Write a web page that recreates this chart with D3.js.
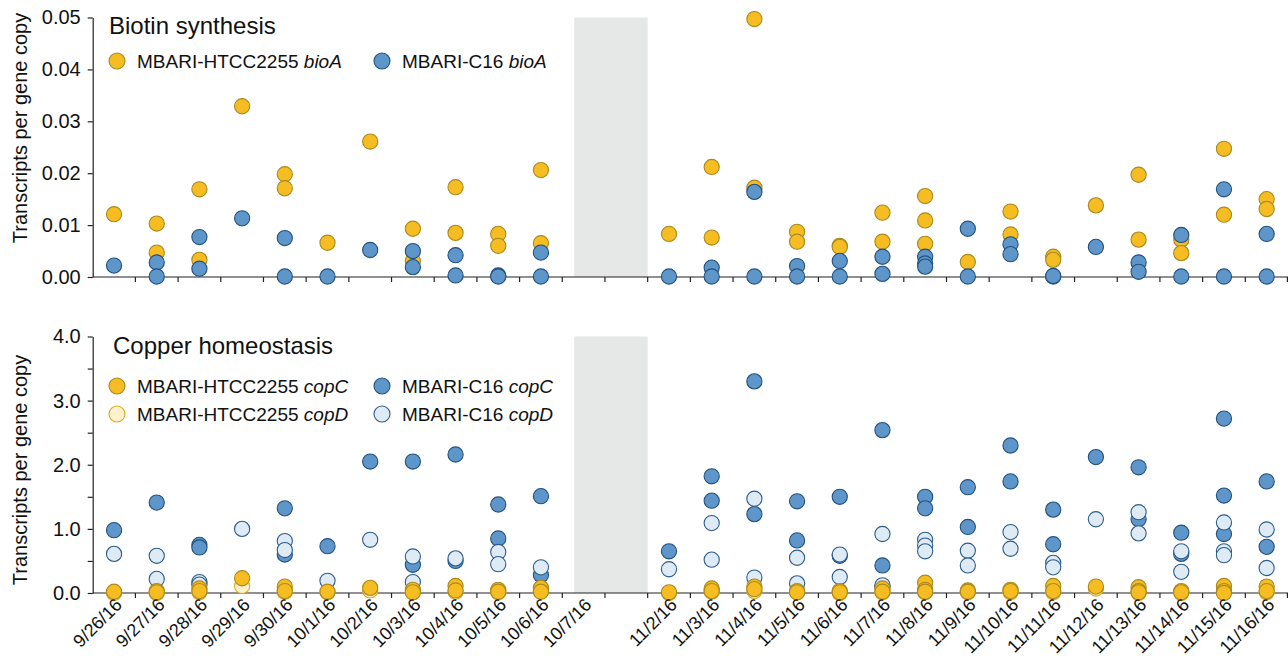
<!DOCTYPE html>
<html>
<head>
<meta charset="utf-8">
<script src="https://cdn.jsdelivr.net/npm/d3@7"></script>
<style>
  body { margin: 0; background: #fff; }
  svg text { font-family: "Liberation Sans", Arial, Helvetica, sans-serif; fill: #111; }
</style>
</head>
<body>
<svg id="chart" width="1288" height="663"></svg>
<script>
// sampling dates ("" is the unlabeled band inside the shaded gap)
const dates = ["9/26/16", "9/27/16", "9/28/16", "9/29/16", "9/30/16", "10/1/16", "10/2/16",
    "10/3/16", "10/4/16", "10/5/16", "10/6/16", "10/7/16", "",
    "11/2/16", "11/3/16", "11/4/16", "11/5/16", "11/6/16", "11/7/16", "11/8/16", "11/9/16",
    "11/10/16", "11/11/16", "11/12/16", "11/13/16", "11/14/16", "11/15/16", "11/16/16"];

// Biotin synthesis, one list of replicate values per date
const htccBioA = [[0.0121], [0.0103, 0.0047], [0.0169, 0.0033], [0.0329], [0.0198, 0.0171],
    [0.0066], [0.0261], [0.0093, 0.0031], [0.0173, 0.0085], [0.0083, 0.0060], [0.0206, 0.0065],
    [], [],
    [0.0083], [0.0212, 0.0076], [0.0497, 0.0172], [0.0087, 0.0068], [0.0060, 0.0058],
    [0.0124, 0.0068], [0.0156, 0.0109, 0.0064], [0.0029], [0.0126, 0.0082], [0.0039, 0.0033],
    [0.0138], [0.0197, 0.0072], [0.0072, 0.0046], [0.0247, 0.0120], [0.0150, 0.0131]];
const c16BioA = [[0.0022], [0.0028, 0.0001], [0.0077, 0.0016], [0.0113], [0.0075, 0.0001],
    [0.0001], [0.0052], [0.0050, 0.0019], [0.0042, 0.0003], [0.0003, 0.0001], [0.0047, 0.0001],
    [], [],
    [0.0001], [0.0018, 0.0001], [0.0164, 0.0001], [0.0021, 0.0001], [0.0031, 0.0001],
    [0.0039, 0.0006], [0.0039, 0.0026, 0.0020], [0.0093, 0.0001], [0.0063, 0.0044], [0.0001, 0.0002],
    [0.0058], [0.0028, 0.0010], [0.0081, 0.0001], [0.0169, 0.0001], [0.0083, 0.0001]];

// Copper homeostasis
const c16CopC = [[0.98], [1.41], [0.75, 0.71], [], [1.32, 0.60], [0.73], [2.05], [2.05, 0.44],
    [2.16, 0.50], [1.38, 0.85], [1.51, 0.28], [], [],
    [0.65], [1.82, 1.44], [3.30, 1.23], [1.43, 0.82], [1.50, 0.58], [2.54, 0.43, 0.10],
    [1.50, 1.32], [1.65, 1.03], [2.30, 1.74], [1.30, 0.76], [2.12], [1.96, 1.15], [0.94, 0.61],
    [2.72, 1.52, 0.92], [1.74, 0.72]];
const c16CopD = [[0.61], [0.58, 0.22], [0.17, 0.13], [1.00], [0.81, 0.67], [0.19], [0.83],
    [0.57, 0.17], [0.54], [0.64, 0.45], [0.40], [], [],
    [0.37], [1.09, 0.52], [1.47, 0.24], [0.55, 0.15], [0.60, 0.25], [0.92, 0.12],
    [0.83, 0.74, 0.65], [0.66, 0.43], [0.95, 0.69], [0.47, 0.40], [1.15], [1.26, 0.93],
    [0.65, 0.33], [1.10, 0.65, 0.59], [0.99, 0.39]];
const htccCopC = [[0.02], [0.03, 0.01], [0.07, 0.03], [0.23], [0.10, 0.03], [0.02], [0.08],
    [0.05, 0.01], [0.11, 0.04], [0.05, 0.02], [0.08, 0.02], [], [],
    [0.01], [0.07, 0.03], [0.10, 0.06], [0.03, 0.01], [0.03, 0.01], [0.07, 0.02],
    [0.16, 0.05, 0.02], [0.04, 0.02], [0.05, 0.03], [0.11, 0.03], [0.10], [0.09, 0.03, 0.01],
    [0.03, 0.01], [0.11, 0.03, 0.00], [0.10, 0.03]];
const htccCopD = [[0.00], [0.00], [0.01], [0.11], [0.02], [0.01], [0.04], [0.01], [0.02], [0.01],
    [0.03], [], [],
    [0.00], [0.02], [0.03], [0.01], [0.00], [0.01], [0.01], [0.01], [0.01], [0.01], [0.07],
    [0.00], [0.00], [0.01], [0.01]];

const bioTicks = [0, 0.01, 0.02, 0.03, 0.04, 0.05];
const copTicks = [0, 0.5, 1, 1.5, 2, 2.5, 3, 3.5, 4];
const shadeFrom = "10/7/16", shadeTo = "";

const styles = {
    htccC: { fill: "#f6bd22", stroke: "#a8891f" },
    htccD: { fill: "#fdf2cc", stroke: "#dda623" },
    c16C: { fill: "#5e96ca", stroke: "#22507f" },
    c16D: { fill: "#deeaf4", stroke: "#2b5c8c" }
};

const dims = { left: 92.7, right: 1288, r: 7.6 };
const svg = d3.select("#chart");

const xScale = d3.scaleBand()
    .domain(dates)
    .range([dims.left, dims.right])
    .padding(0);

function flatten(series) {
    const pts = [];
    series.forEach(function(vals, i) {
        vals.forEach(function(v) { pts.push({ date: dates[i], value: v }); });
    });
    return pts;
}

function drawPanel(opt) {
    const yScale = d3.scaleLinear()
        .domain(opt.domain)
        .range([opt.bottom, opt.top]);
    const g = svg.append("g");

    // shaded gap
    g.append("rect")
        .attr("x", xScale(shadeFrom) + xScale.bandwidth() * 0.28)
        .attr("y", yScale(opt.domain[1]))
        .attr("width", xScale(shadeTo) + xScale.bandwidth() - xScale(shadeFrom) - xScale.bandwidth() * 0.28)
        .attr("height", yScale(opt.domain[0]) - yScale(opt.domain[1]))
        .attr("fill", "#e6e7e7");

    // y axis
    const yAxis = d3.axisLeft(yScale)
        .tickValues(opt.ticks)
        .tickSize(5)
        .tickSizeOuter(0)
        .tickPadding(7)
        .tickFormat(function(d) { return opt.labels.indexOf(d) >= 0 ? d3.format(opt.fmt)(d) : ""; });
    const ya = g.append("g")
        .attr("transform", "translate(" + dims.left + ",0)")
        .call(yAxis);
    ya.selectAll("text").style("font-size", "20px");
    ya.selectAll("path, line").attr("stroke", "#222").attr("stroke-width", 1.2);

    // x axis line and ticks at band edges
    g.append("line")
        .attr("x1", dims.left).attr("x2", dims.right)
        .attr("y1", opt.bottom).attr("y2", opt.bottom)
        .attr("stroke", "#222").attr("stroke-width", 1.2);
    g.selectAll(".xtick")
        .data(dates.slice(1).concat(["__end"]))
        .join("line")
        .attr("class", "xtick")
        .attr("x1", function(d) { return d === "__end" ? dims.right - 0.6 : xScale(d); })
        .attr("x2", function(d) { return d === "__end" ? dims.right - 0.6 : xScale(d); })
        .attr("y1", opt.bottom).attr("y2", opt.bottom + 5)
        .attr("stroke", "#222").attr("stroke-width", 1.2);

    // points
    opt.series.forEach(function(s) {
        g.append("g").selectAll("circle")
            .data(flatten(s.data))
            .join("circle")
            .attr("cx", function(d) { return xScale(d.date) + xScale.bandwidth() / 2; })
            .attr("cy", function(d) { return yScale(d.value); })
            .attr("r", dims.r)
            .attr("fill", s.style.fill)
            .attr("stroke", s.style.stroke)
            .attr("stroke-width", 1.1);
    });

    // title
    g.append("text")
        .attr("x", opt.titleX).attr("y", opt.titleY)
        .style("font-size", "24px")
        .text(opt.title);

    // legend
    opt.legend.forEach(function(l) {
        g.append("circle")
            .attr("cx", l.x).attr("cy", l.y)
            .attr("r", 8)
            .attr("fill", l.style.fill)
            .attr("stroke", l.style.stroke)
            .attr("stroke-width", 1.1);
        const t = g.append("text")
            .attr("x", l.x + 20).attr("y", l.y + 7)
            .style("font-size", "19px");
        t.append("tspan").text(l.strain + " ");
        t.append("tspan").style("font-style", "italic").text(l.gene);
    });

    // y label
    g.append("text")
        .attr("transform", "translate(27," + opt.labelY + ") rotate(-90)")
        .attr("text-anchor", "middle")
        .style("font-size", "20px")
        .text("Transcripts per gene copy");

    return g;
}

drawPanel({
    top: 17.5, bottom: 277, domain: [0, 0.05], ticks: bioTicks, labels: bioTicks, fmt: ".2f",
    title: "Biotin synthesis", titleX: 109, titleY: 34, labelY: 128,
    series: [
        { data: htccBioA, style: styles.htccC },
        { data: c16BioA, style: styles.c16C }
    ],
    legend: [
        { x: 117, y: 61, style: styles.htccC, strain: "MBARI-HTCC2255", gene: "bioA" },
        { x: 382, y: 61, style: styles.c16C, strain: "MBARI-C16", gene: "bioA" }
    ]
});

const bottomPanel = drawPanel({
    top: 336.5, bottom: 593, domain: [0, 4], ticks: copTicks, labels: [0, 1, 2, 3, 4], fmt: ".1f",
    title: "Copper homeostasis", titleX: 113, titleY: 354, labelY: 470,
    series: [
        { data: c16CopC, style: styles.c16C },
        { data: c16CopD, style: styles.c16D },
        { data: htccCopD, style: styles.htccD },
        { data: htccCopC, style: styles.htccC }
    ],
    legend: [
        { x: 117, y: 386, style: styles.htccC, strain: "MBARI-HTCC2255", gene: "copC" },
        { x: 117, y: 414, style: styles.htccD, strain: "MBARI-HTCC2255", gene: "copD" },
        { x: 382, y: 386, style: styles.c16C, strain: "MBARI-C16", gene: "copC" },
        { x: 382, y: 414, style: styles.c16D, strain: "MBARI-C16", gene: "copD" }
    ]
});

// rotated date labels under the bottom panel
bottomPanel.selectAll(".dlabel")
    .data(dates.filter(function(d) { return d !== ""; }))
    .join("text")
    .attr("class", "dlabel")
    .attr("text-anchor", "end")
    .attr("transform", function(d) {
        return "translate(" + (xScale(d) + xScale.bandwidth() / 2 + 9) + ",606) rotate(-45)";
    })
    .style("font-size", "18px")
    .text(function(d) { return d; });
</script>
</body>
</html>
